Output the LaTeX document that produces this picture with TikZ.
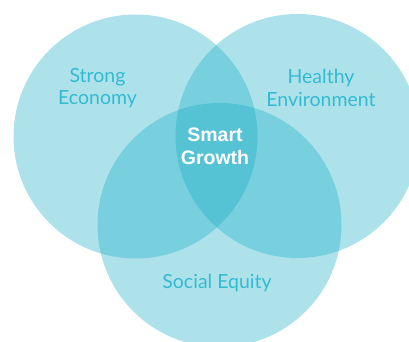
\documentclass[tikz,border=0pt]{standalone}
\usepackage{fontspec}
\setmainfont{Lato}
\newfontfamily\boldsans{Liberation Sans}
\definecolor{venn}{RGB}{23,173,198}
\definecolor{labelc}{RGB}{52,186,208}
\begin{document}
\begin{tikzpicture}[x=1pt,y=-1pt,
  vcirc/.style={circle,fill=venn,fill opacity=0.353,draw=none,minimum size=244pt,inner sep=0pt},
  vlabel/.style={text=labelc,font=\fontsize{19.5}{22.5}\selectfont,align=center,inner sep=0pt},
  center label/.style={text=white,font=\boldsans\bfseries\fontsize{19.5}{23}\selectfont,align=center,inner sep=0pt}]
\useasboundingbox (0,0) rectangle (409,342);
\clip (0,0) rectangle (409,342);
\node[vcirc] (econ) at (135.5,136.5) {};
\node[vcirc] (env) at (297.5,136) {};
\node[vcirc] (soc) at (219.5,225) {};
\node[vlabel] (econlbl) at (97.5,88) {Strong\\Economy};
\node[vlabel] (envlbl) at (321,88) {Healthy\\Environment};
\node[vlabel] (soclbl) at (217,283) {Social Equity};
\node[center label] (smart) at (215,146) {Smart\\Growth};
\end{tikzpicture}
\end{document}
